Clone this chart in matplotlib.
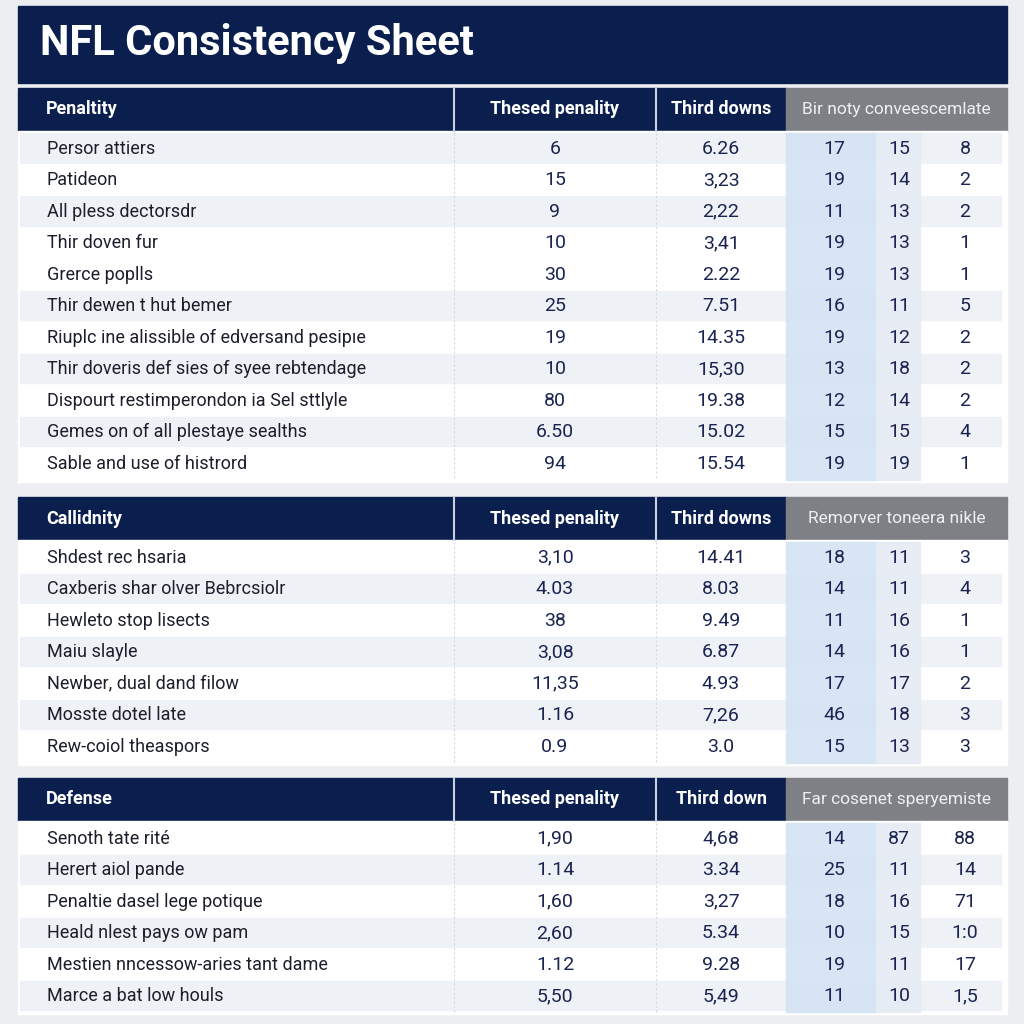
import matplotlib.pyplot as plt
from matplotlib.patches import Rectangle

plt.rcParams['font.family'] = ['Roboto', 'DejaVu Sans']

TITLE = "NFL Consistency Sheet"

# section 1
head1 = ["Penaltity", "Thesed penality", "Third downs", "Bir noty conveescemlate"]
labels1 = ["Persor attiers", "Patideon", "All pless dectorsdr", "Thir doven fur",
           "Grerce poplls", "Thir dewen t hut bemer",
           "Riuplc ine alissible of edversand pesipıe",
           "Thir doveris def sies of syee rebtendage",
           "Dispourt restimperondon ia Sel sttlyle",
           "Gemes on of all plestaye sealths", "Sable and use of histrord"]
pen1 = ["6", "15", "9", "10", "30", "25", "19", "10", "80", "6.50", "94"]
third1 = ["6.26", "3,23", "2,22", "3,41", "2.22", "7.51", "14.35", "15,30", "19.38", "15.02", "15.54"]
a1 = ["17", "19", "11", "19", "19", "16", "19", "13", "12", "15", "19"]
b1 = ["15", "14", "13", "13", "13", "11", "12", "18", "14", "15", "19"]
c1 = ["8", "2", "2", "1", "1", "5", "2", "2", "2", "4", "1"]
shade1 = [1, 0, 1, 0, 0, 1, 0, 1, 0, 1, 0]

# section 2
head2 = ["Callidnity", "Thesed penality", "Third downs", "Remorver toneera nikle"]
labels2 = ["Shdest rec hsaria", "Caxberis shar olver Bebrcsiolr", "Hewleto stop lisects",
           "Maiu slayle", "Newber, dual dand filow", "Mosste dotel late", "Rew-coiol theaspors"]
pen2 = ["3,10", "4.03", "38", "3,08", "11,35", "1.16", "0.9"]
third2 = ["14.41", "8.03", "9.49", "6.87", "4.93", "7,26", "3.0"]
a2 = ["18", "14", "11", "14", "17", "46", "15"]
b2 = ["11", "11", "16", "16", "17", "18", "13"]
c2 = ["3", "4", "1", "1", "2", "3", "3"]
shade2 = [0, 1, 0, 1, 0, 1, 0]

# section 3
head3 = ["Defense", "Thesed penality", "Third down", "Far cosenet speryemiste"]
labels3 = ["Senoth tate rité", "Herert aiol pande", "Penaltie dasel lege potique",
           "Heald nlest pays ow pam", "Mestien nncessow-aries tant dame", "Marce a bat low houls"]
pen3 = ["1,90", "1.14", "1,60", "2,60", "1.12", "5,50"]
third3 = ["4,68", "3.34", "3,27", "5.34", "9.28", "5,49"]
a3 = ["14", "25", "18", "10", "19", "11"]
b3 = ["87", "11", "16", "15", "11", "10"]
c3 = ["88", "14", "71", "1:0", "17", "1,5"]
shade3 = [0, 1, 0, 1, 0, 1]

NAVY = "#0b1f4e"
GRAY_HEAD = "#7e8085"
BG = "#eceef1"
SHADE = "#eef1f6"
BLUE = "#d4e3f3"
BLUE2 = "#e6ecf4"
TXT = "#1c1f2b"
NUM = "#1b2450"

# column edges (pixels)
X0, X1, X2, X3, X4 = 18, 454, 656, 786, 1007
SUB = [834, 899, 965]
ROW_H = 31.5
HEAD_H = 43

fig = plt.figure(figsize=(10.24, 10.24), dpi=100)
fig.patch.set_facecolor(BG)
ax = fig.add_axes([0, 0, 1, 1])
ax.set_xlim(0, 1024)
ax.set_ylim(1024, 0)
ax.axis("off")

# title bar
ax.add_patch(Rectangle((X0, 6), X4 - X0, 77, color=NAVY))
ax.text(40, 43, TITLE, color="white", fontsize=30, fontweight="bold", va="center", ha="left")


def draw_section(top, heads, labels, pen, third, a, b, c, shade):
    # header
    ax.add_patch(Rectangle((X0, top), X3 - X0, HEAD_H, color=NAVY))
    ax.add_patch(Rectangle((X3, top), X4 - X3, HEAD_H, color=GRAY_HEAD))
    for x in (X1, X2):
        ax.plot([x, x], [top, top + HEAD_H], color="#c9cfdc", lw=1.5)
    yc = top + HEAD_H / 2
    ax.text(46, yc, heads[0], color="white", fontsize=13, fontweight="bold", va="center")
    ax.text((X1 + X2) / 2, yc, heads[1], color="white", fontsize=13, fontweight="bold",
            va="center", ha="center")
    ax.text((X2 + X3) / 2, yc, heads[2], color="white", fontsize=13, fontweight="bold",
            va="center", ha="center")
    ax.text((X3 + X4) / 2, yc, heads[3], color="#eef0f5", fontsize=12.5,
            va="center", ha="center")

    n = len(labels)
    body_top = top + HEAD_H + 2
    body_h = n * ROW_H + 4
    ax.add_patch(Rectangle((X0, body_top - 2), X4 - X0, body_h, color="white"))
    for i in range(n):
        y = body_top + i * ROW_H
        if shade[i]:
            ax.add_patch(Rectangle((X0 + 2, y), X4 - X0 - 8, ROW_H - 2, color=SHADE))
    # blue bands in last column
    ax.add_patch(Rectangle((X3, body_top), 876 - X3, n * ROW_H, color=BLUE, alpha=0.9))
    ax.add_patch(Rectangle((876, body_top), 920 - 876, n * ROW_H, color=BLUE2, alpha=0.9))
    for x in (X1, X2):
        ax.plot([x, x], [body_top, body_top + n * ROW_H], color="#d5d9e0", lw=0.8, ls=(0, (2, 2)))

    for i in range(n):
        y = body_top + i * ROW_H + ROW_H / 2
        ax.text(47, y, labels[i], color=TXT, fontsize=13, va="center", ha="left")
        ax.text((X1 + X2) / 2, y, pen[i], color=NUM, fontsize=14, va="center", ha="center")
        ax.text((X2 + X3) / 2, y, third[i], color=NUM, fontsize=14, va="center", ha="center")
        for x, v in zip(SUB, (a[i], b[i], c[i])):
            ax.text(x, y, v, color=NUM, fontsize=14, va="center", ha="center")


draw_section(88, head1, labels1, pen1, third1, a1, b1, c1, shade1)
draw_section(497, head2, labels2, pen2, third2, a2, b2, c2, shade2)
draw_section(778, head3, labels3, pen3, third3, a3, b3, c3, shade3)

fig.savefig("out.png", dpi=100, facecolor=BG)
